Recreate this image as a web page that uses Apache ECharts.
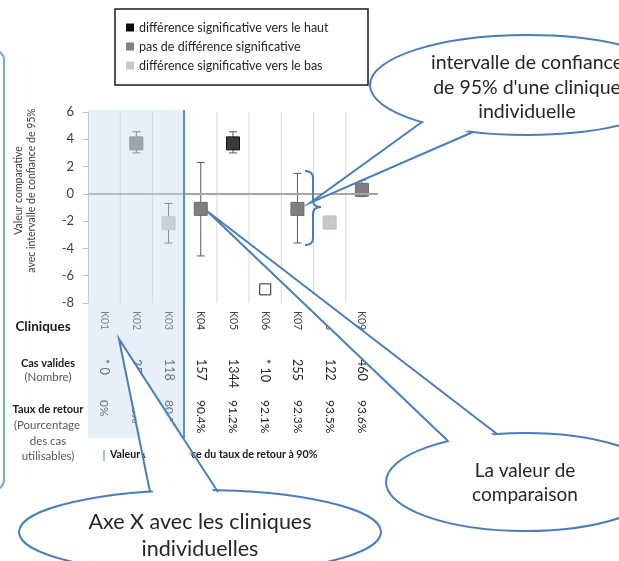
<!DOCTYPE html>
<html><head><meta charset="utf-8">
<script src="https://cdn.jsdelivr.net/npm/echarts@6/dist/echarts.min.js"></script>
<style>html,body{margin:0;padding:0;background:#fff}#c{width:619px;height:561px}</style>
</head><body><div id="c"></div>
<script>
const categories = ['K01','K02','K03','K04','K05','K06','K07','K08','K09'];
const values  = [null, 3.7, -2.15, -1.1, 3.7, -7.0, -1.1, -2.1, 0.3];
const ciLow   = [null, 3.0, -3.6, -4.55, 3.0, null, -3.6, -2.55, -0.2];
const ciHigh  = [null, 4.55, -0.7, 2.3, 4.55, null, 1.5, -1.65, 1.0];
const status  = ['none','same','low','same','high','few','same','low','same'];
const casValides = ['* 0','25','118','157','1344','* 10','255','122','460'];
const tauxRetour = ['0%','78%','80.5%','90.4%','91.2%','92.1%','92.3%','93.5%','93.6%'];
const yMin = -8, yMax = 6, yStep = 2;
const legendNames = ['différence significative vers le haut','pas de différence significative','différence significative vers le bas'];
const legendColors = ['#0d0d0d','#7f7f7f','#c8c8c8'];
const yTitle = 'Valeur comparative\navec intervalle de confiance de 95%';
const rowLabels = [
  ['Cliniques','bold',13.5,'#1a1a1a',43,327],
  ['Cas valides','bold',11,'#1a1a1a',48,363],
  ['(Nombre)','normal',11.5,'#595959',48,377],
  ['Taux de retour','bold',11,'#1a1a1a',48,409],
  ['(Pourcentage','normal',11.5,'#595959',47,425],
  ['des cas','normal',11.5,'#595959',48,441],
  ['utilisables)','normal',11.5,'#595959',48,456]
];
const refLegendText = 'Valeur de référence du taux de retour à 90%';
const calloutA = ['Axe X avec les cliniques','individuelles'];
const calloutB = ['La valeur de','comparaison'];
const calloutC = ['intervalle de confiance','de 95% d\'une clinique','individuelle'];

const FONT = 'Lato, "Open Sans", sans-serif';
const BLUE = '#4a7ebb';

function pick(st){ return categories.map((c,i)=> status[i]===st ? [i, values[i]] : null).filter(d=>d); }

const chart = echarts.init(document.getElementById('c'), null, {renderer:'canvas'});

function txt(text, x, y, size, weight, color, z){
  return {type:'text', z: z||30, style:{text:text, x:x, y:y, font: weight+' '+size+'px '+FONT, fill:color,
    align:'center', verticalAlign:'middle', textAlign:'center', textVerticalAlign:'middle'}};
}
function callout(cx, cy, rx, ry, baseA, baseB, tip, lines, size, lineH, textY){
  const inA = [baseA[0] + (cx-baseA[0])*0.08, baseA[1] + (cy-baseA[1])*0.12];
  const inB = [baseB[0] + (cx-baseB[0])*0.08, baseB[1] + (cy-baseB[1])*0.12];
  const els = [
    {type:'ellipse', z:20, shape:{cx:cx, cy:cy, rx:rx, ry:ry}, style:{fill:'#fff', stroke:BLUE, lineWidth:2}},
    {type:'polygon', z:21, shape:{points:[inA, tip, inB]}, style:{fill:'#fff', stroke:null}},
    {type:'polyline', z:22, shape:{points:[baseA, tip, baseB]}, style:{fill:null, stroke:BLUE, lineWidth:2}}
  ];
  lines.forEach((l,k)=> els.push(txt(l, cx, textY + k*lineH, size, 'normal', '#262626', 23)));
  return els;
}
const braceStyle = {fill:null, stroke:BLUE, lineWidth:2};
function bez(x1,y1,cx,cy,x2,y2){ return {type:'bezierCurve', z:15, shape:{x1:x1,y1:y1,cpx1:cx,cpy1:cy,x2:x2,y2:y2}, style:braceStyle}; }
function seg(x1,y1,x2,y2,z,stroke,w){ return {type:'line', z:z||15, shape:{x1:x1,y1:y1,x2:x2,y2:y2}, style:{stroke:stroke||BLUE, lineWidth:w||2}}; }

const graphics = [
  {type:'rect', z:5, shape:{x:115, y:9, width:253, height:76}, style:{fill:null, stroke:'#1a1a1a', lineWidth:1.5}},
  {type:'rect', z:5, shape:{x:-200, y:50, width:204, height:440, r:10}, style:{fill:null, stroke:'#7ba6d9', lineWidth:2}},
  {type:'rect', z:10, shape:{x:88, y:110, width:96, height:328}, style:{fill:'rgba(197,217,241,0.42)'}},
  seg(184,110,184,438,11,'#5b8fd0',2),
  seg(104,450,104,461,11,'#9dc3e6',2),
  {type:'text', z:12, style:{text:refLegendText, x:110, y:455, font:'bold 10.6px '+FONT, fill:'#1a1a1a', align:'left', verticalAlign:'middle', textAlign:'left', textVerticalAlign:'middle'}},
  bez(305,171,313,171,313,178), seg(313,178,313,200), bez(313,200,313,207,321,207),
  bez(321,207,313,207,313,214), seg(313,214,313,238), bez(313,238,313,245,305,245)
];
rowLabels.forEach(r => graphics.push(txt(r[0], r[4], r[5], r[2], r[1], r[3], 12)));
graphics.push(...callout(200, 532, 181, 42, [150,492], [218,492], [119,339], calloutA, 21.5, 27, 522));
graphics.push(...callout(525, 482, 139, 49, [448,441], [497,434], [207,211], calloutB, 19, 24, 471));
graphics.push(...callout(527, 85, 157, 50, [422,122], [473,132], [310,203], calloutC, 19.5, 24.5, 63));

const xLabelBase = {show:true, rotate:-90, margin:8, fontFamily:FONT};
chart.setOption({
  animation:false,
  textStyle:{fontFamily:FONT},
  grid:{left:88, right:241, top:112, bottom:258, containLabel:false},
  legend:{orient:'vertical', left:121, top:16, itemWidth:8, itemHeight:8, itemGap:6, icon:'rect',
    textStyle:{fontSize:12.5, color:'#262626', fontFamily:FONT},
    data: legendNames.map((n,i)=>({name:n, itemStyle:{color:legendColors[i], borderWidth:0}}))},
  xAxis:[
    {type:'category', data:categories, position:'bottom', boundaryGap:true,
      axisLine:{show:false}, axisTick:{show:false}, splitLine:{show:false},
      axisLabel:Object.assign({}, xLabelBase, {fontSize:10.5, color:'#404040'})},
    {type:'category', data:categories, position:'bottom', offset:48,
      axisLine:{show:false}, axisTick:{show:false}, splitLine:{show:false},
      axisLabel:Object.assign({}, xLabelBase, {fontSize:12.5, color:'#262626', formatter:(v,i)=>casValides[i]})},
    {type:'category', data:categories, position:'bottom', offset:89,
      axisLine:{show:false}, axisTick:{show:false}, splitLine:{show:false},
      axisLabel:Object.assign({}, xLabelBase, {fontSize:12, color:'#262626', formatter:(v,i)=>tauxRetour[i]})}
  ],
  yAxis:{type:'value', min:yMin, max:yMax, interval:yStep,
    axisLine:{show:true, lineStyle:{color:'#bfbfbf'}},
    axisTick:{show:true, length:5, lineStyle:{color:'#bfbfbf'}},
    splitLine:{show:false},
    axisLabel:{fontSize:13, color:'#404040', margin:14, fontFamily:FONT},
    name:yTitle, nameLocation:'middle', nameGap:50, nameRotate:90,
    nameTextStyle:{fontSize:10.5, color:'#404040', lineHeight:13, fontFamily:FONT, padding:[0,0,0,34]}},
  series:[
    {type:'custom', name:'grid', z:0, xAxisIndex:0, silent:true,
      data: categories.slice(0, categories.length-1).map((c,i)=>[i]),
      encode:{x:0},
      renderItem:function(params, api){
        const i = api.value(0);
        const half = api.size([1,0])[0]/2;
        const top = api.coord([i, yMax]);
        const bot = api.coord([i, yMin]);
        return {type:'line', shape:{x1:top[0]+half, y1:top[1], x2:bot[0]+half, y2:bot[1]}, style:{stroke:'#d9d9d9', lineWidth:1}};
      }
    },
    {type:'custom', name:'ci', z:2, xAxisIndex:0,
      data: categories.map((c,i)=>[i, ciLow[i], ciHigh[i]]).filter(d=>d[1]!=null),
      encode:{x:0, y:[1,2]},
      renderItem:function(params, api){
        const x = api.value(0);
        const lo = api.coord([x, api.value(1)]);
        const hi = api.coord([x, api.value(2)]);
        const w = 4;
        const st = {stroke:'#595959', lineWidth:1};
        return {type:'group', children:[
          {type:'line', shape:{x1:lo[0], y1:lo[1], x2:hi[0], y2:hi[1]}, style:st},
          {type:'line', shape:{x1:lo[0]-w, y1:lo[1], x2:lo[0]+w, y2:lo[1]}, style:st},
          {type:'line', shape:{x1:hi[0]-w, y1:hi[1], x2:hi[0]+w, y2:hi[1]}, style:st}
        ]};
      },
      markLine:{silent:true, symbol:['none','none'], label:{show:false},
        lineStyle:{color:'#a6a6a6', width:2, type:'solid'}, data:[{yAxis:0}]}
    },
    {type:'scatter', name:legendNames[0], z:3, symbol:'rect', symbolSize:13, data:pick('high'),
      itemStyle:{color:'#3a3a3a', borderColor:'#111', borderWidth:1, opacity:1}},
    {type:'scatter', name:legendNames[1], z:3, symbol:'rect', symbolSize:13, data:pick('same'),
      itemStyle:{color:'#7f7f7f', borderColor:'#6b6b6b', borderWidth:1, opacity:1}},
    {type:'scatter', name:legendNames[2], z:3, symbol:'rect', symbolSize:13, data:pick('low'),
      itemStyle:{color:'#c8c8c8', borderColor:'#bdbdbd', borderWidth:1, opacity:1}},
    {type:'scatter', name:'peu de cas', z:3, symbol:'rect', symbolSize:11, data:pick('few'),
      itemStyle:{color:'#ffffff', borderColor:'#262626', borderWidth:1, opacity:1}}
  ],
  graphic: graphics
});
</script></body></html>
